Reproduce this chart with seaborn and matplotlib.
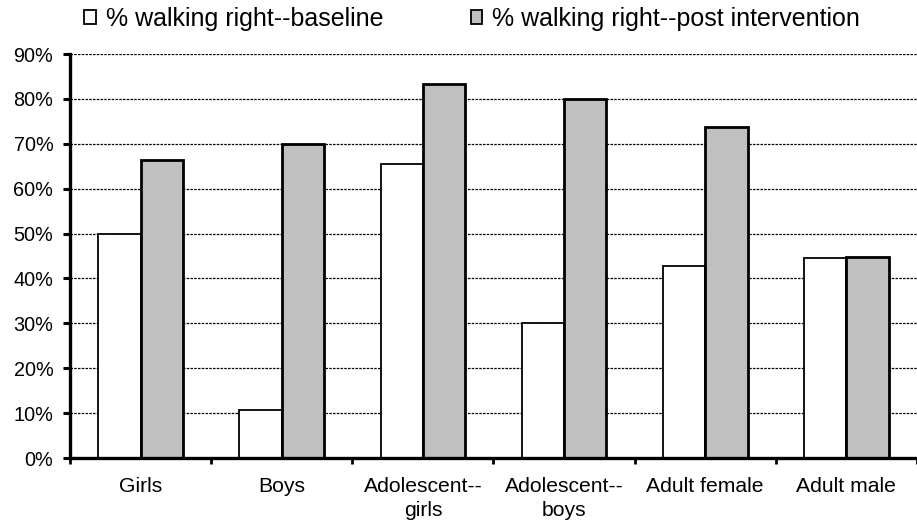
import matplotlib
matplotlib.use("Agg")
import matplotlib.pyplot as plt
import seaborn as sns
import pandas as pd
from matplotlib.ticker import FixedLocator, FuncFormatter
from matplotlib.patches import Patch

categories = ["Girls", "Boys", "Adolescent--\ngirls", "Adolescent--\nboys",
              "Adult female", "Adult male"]
baseline = [50, 10.7, 65.5, 30, 42.8, 44.5]
post = [66.4, 70, 83.4, 80, 73.8, 44.8]
series_names = ["% walking right--baseline", "% walking right--post intervention"]
y_ticks = [0, 10, 20, 30, 40, 50, 60, 70, 80, 90]

df = pd.DataFrame({
    "category": categories * 2,
    "value": baseline + post,
    "series": [series_names[0]] * len(categories) + [series_names[1]] * len(categories),
})

sns.set_theme(style="white")
plt.rcParams["font.family"] = ["Liberation Sans", "DejaVu Sans"]

fig = plt.figure(figsize=(9.17, 5.25), dpi=100)
ax = fig.add_axes([70 / 917, 1 - 458 / 525, 1 - 70 / 917, (458 - 54) / 525])

palette = {series_names[0]: "#FFFFFF", series_names[1]: "#C0C0C0"}
sns.barplot(data=df, x="category", y="value", hue="series", order=categories,
            hue_order=series_names, palette=palette, width=0.6,
            edgecolor="black", linewidth=1.3, saturation=1, ax=ax, legend=False)

# thicker edge on the post-intervention bars
n = len(categories)
for i, p in enumerate(ax.patches):
    if i >= n:
        p.set_linewidth(2.0)

ax.set_ylim(0, 90)
ax.set_xlim(-0.5, n - 0.5)
ax.yaxis.set_major_locator(FixedLocator(y_ticks))
ax.yaxis.set_major_formatter(FuncFormatter(lambda v, _: f"{int(round(v))}%"))
ax.grid(axis="y", color="black", linestyle=(0, (2, 1)), linewidth=0.9)
ax.grid(axis="x", visible=False)
ax.set_axisbelow(True)

ax.set_xlabel("")
ax.set_ylabel("")

for s in ["top", "right"]:
    ax.spines[s].set_visible(False)
for s in ["left", "bottom"]:
    ax.spines[s].set_visible(True)
    ax.spines[s].set_color("black")
    ax.spines[s].set_linewidth(2.4)

ax.tick_params(axis="y", which="major", direction="out", length=5, width=2.2,
               color="black", left=True, labelsize=14.3, pad=7, labelcolor="black")
ax.tick_params(axis="x", which="major", length=0, labelsize=15.2, pad=14,
               labelcolor="black")
for lbl in ax.get_xticklabels():
    lbl.set_linespacing(1.3)
ax.set_xticks([i - 0.5 for i in range(n + 1)], minor=True)
ax.tick_params(axis="x", which="minor", direction="out", length=4, width=2,
               color="black", bottom=True)

handles = [Patch(facecolor=palette[s], edgecolor="black", linewidth=1.3) for s in series_names]
fig.legend(handles, series_names, loc="center", ncol=2,
           bbox_to_anchor=(472 / 917, 1 - 19 / 525), frameon=False,
           fontsize=18, handlelength=0.45, handleheight=0.45,
           handletextpad=0.4, columnspacing=3.5, borderpad=0, labelcolor="black")

fig.savefig("out.png", dpi=100)
